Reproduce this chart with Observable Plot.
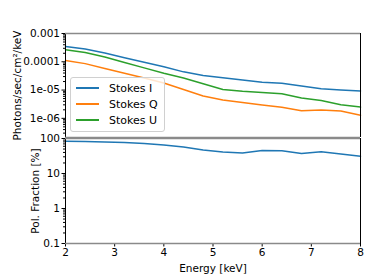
<!DOCTYPE html>
<html><head><meta charset="utf-8">
<script src="https://cdn.jsdelivr.net/npm/d3@7"></script>
<script src="https://cdn.jsdelivr.net/npm/@observablehq/plot@0.6"></script>
<style>
body{margin:0;background:#fff;}
#wrap{position:relative;width:374px;height:280px;font-family:"DejaVu Sans",sans-serif;background:#fff;}
#wrap svg{display:block;overflow:visible;position:relative;}
.legend{position:absolute;left:70px;top:77px;width:95px;height:55px;border:1px solid #d0d0d0;border-radius:3px;background:rgba(255,255,255,0.8);font:11px "DejaVu Sans";box-sizing:border-box;z-index:5;}
.row{position:absolute;left:5px;height:14px;display:flex;align-items:center;}
.sw{width:23px;height:1.5px;margin-right:10px;}
</style></head><body><div id="wrap"></div>
<script>
const energy = [2.0, 2.4, 2.8, 3.2, 3.6, 4.0, 4.4, 4.8, 5.2, 5.6, 6.0, 6.4, 6.8, 7.2, 7.6, 8.0];
const stokesI = [3.47e-4, 2.84e-4, 2.03e-4, 1.40e-4, 9.7e-5, 6.7e-5, 4.4e-5, 3.27e-5, 2.71e-5, 2.25e-5, 1.90e-5, 1.75e-5, 1.38e-5, 1.12e-5, 1.01e-5, 9.2e-6];
const stokesQ = [1.11e-4, 8.6e-5, 5.8e-5, 3.94e-5, 2.67e-5, 1.78e-5, 1.05e-5, 6.2e-6, 4.45e-6, 3.64e-6, 2.97e-6, 2.48e-6, 1.87e-6, 1.96e-6, 1.81e-6, 1.28e-6];
const stokesU = [2.66e-4, 2.13e-4, 1.47e-4, 9.5e-5, 6.1e-5, 3.94e-5, 2.67e-5, 1.66e-5, 1.05e-5, 9.0e-6, 8.2e-6, 7.4e-6, 5.2e-6, 4.25e-6, 3.0e-6, 2.5e-6];
const polFraction = [83.7, 82.6, 80, 76.9, 72, 65.6, 57, 46.9, 41.1, 38.3, 45.4, 44.8, 37.3, 41.7, 36.1, 31.2];
const seriesNames = ["Stokes I", "Stokes Q", "Stokes U"];
const seriesColors = ["#1f77b4", "#ff7f0e", "#2ca02c"];
const topTicks = [1e-3, 1e-4, 1e-5, 1e-6];
const topTickLabels = ["0.001", "0.0001", "1e-05", "1e-06"];
const botTicks = [0.1, 1, 10, 100];
const botTickLabels = ["0.1", "1", "10", "100"];
const xTicks = [2, 3, 4, 5, 6, 7, 8];
const topDomain = [2.1e-7, 1e-3];
const botDomain = [0.1, 100];
const xDomain = [2, 8];

function minors(lo, hi) {
  const out = [];
  for (let e = Math.floor(Math.log10(lo)); e <= Math.ceil(Math.log10(hi)); e++)
    for (let m = 2; m <= 9; m++) { const v = m * Math.pow(10, e); if (v > lo && v < hi) out.push(v); }
  return out;
}

const rows = [];
energy.forEach((e, i) => {
  rows.push({e, v: stokesI[i], s: seriesNames[0]});
  rows.push({e, v: stokesQ[i], s: seriesNames[1]});
  rows.push({e, v: stokesU[i], s: seriesNames[2]});
});
const polRows = energy.map((e, i) => ({e, v: polFraction[i]}));

const chartStyle = {fontFamily: "DejaVu Sans", fontSize: "10.5px", color: "#000", background: "transparent", overflow: "visible"};

const topPlot = Plot.plot({
  width: 374, height: 137, marginLeft: 65, marginRight: 14, marginTop: 33, marginBottom: 0,
  style: chartStyle,
  x: {domain: xDomain, axis: null},
  y: {type: "log", domain: topDomain, axis: null},
  color: {domain: seriesNames, range: seriesColors},
  marks: [
    Plot.axisY({ticks: minors(...topDomain), tickSize: 2, text: null, label: null}),
    Plot.axisY({ticks: topTicks, tickSize: 3.5, tickPadding: 2, tickFormat: d => topTickLabels[topTicks.indexOf(d)],
      label: "Photons/sec/cm²/keV", labelAnchor: "center", labelArrow: "none", labelOffset: 52}),
    Plot.line(rows, {x: "e", y: "v", stroke: "s", z: "s", strokeWidth: 1.5}),
    Plot.ruleX(xDomain, {stroke: "#000", strokeWidth: 1}),
    Plot.ruleY(topDomain, {stroke: "#8a8a8a", strokeWidth: 1.6})
  ]
});

const botPlot = Plot.plot({
  width: 374, height: 143, marginLeft: 65, marginRight: 14, marginTop: 1, marginBottom: 37,
  style: chartStyle,
  x: {domain: xDomain, axis: null},
  y: {type: "log", domain: botDomain, axis: null},
  marks: [
    Plot.axisY({ticks: minors(...botDomain), tickSize: 2, text: null, label: null}),
    Plot.axisY({ticks: botTicks, tickSize: 3.5, tickPadding: 2, tickFormat: d => botTickLabels[botTicks.indexOf(d)],
      label: "Pol. Fraction [%]", labelAnchor: "center", labelArrow: "none", labelOffset: 34}),
    Plot.axisX({ticks: xTicks, tickSize: 3.5, tickPadding: 2, tickFormat: d => String(d),
      label: "Energy [keV]", labelAnchor: "center", labelArrow: "none", labelOffset: 28}),
    Plot.line(polRows, {x: "e", y: "v", stroke: seriesColors[0], strokeWidth: 1.5}),
    Plot.ruleX(xDomain, {stroke: "#000", strokeWidth: 1}),
    Plot.ruleY(botDomain, {stroke: "#8a8a8a", strokeWidth: 1.6})
  ]
});

const wrap = document.getElementById("wrap");
wrap.appendChild(topPlot);
wrap.appendChild(botPlot);
topPlot.style.zIndex = "2";

const leg = document.createElement("div");
leg.className = "legend";
seriesNames.forEach((n, i) => {
  const r = document.createElement("div");
  r.className = "row";
  r.style.top = (3 + i * 16) + "px";
  const sw = document.createElement("div");
  sw.className = "sw";
  sw.style.background = seriesColors[i];
  const t = document.createElement("span");
  t.textContent = n;
  r.appendChild(sw); r.appendChild(t);
  leg.appendChild(r);
});
wrap.appendChild(leg);
</script>
</body></html>
